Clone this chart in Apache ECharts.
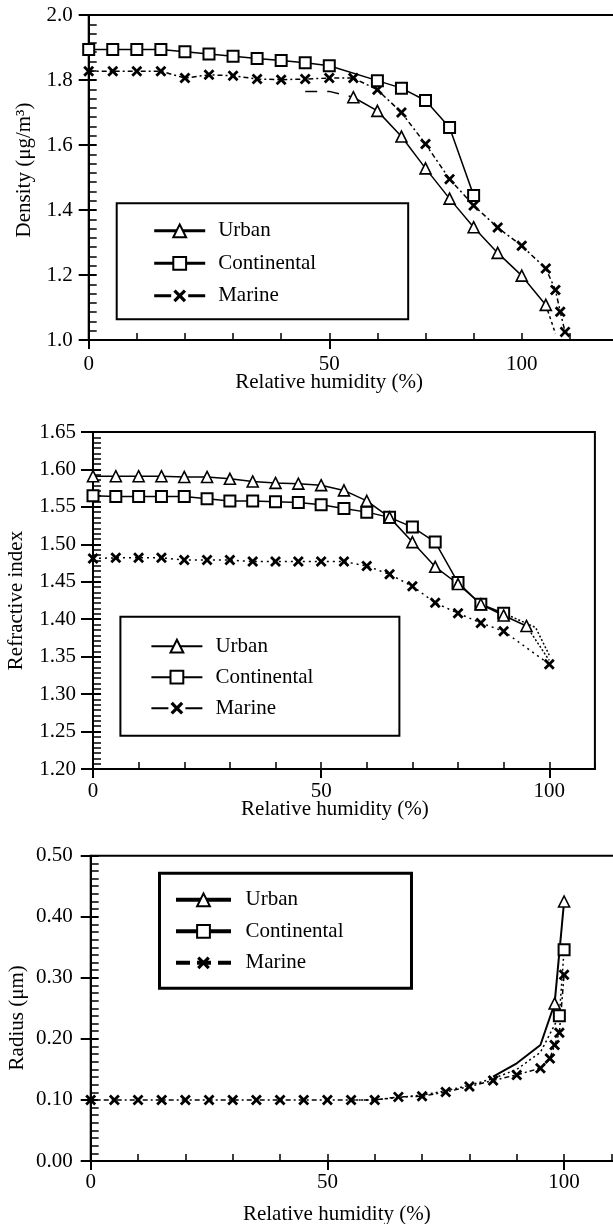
<!DOCTYPE html>
<html>
<head>
<meta charset="utf-8">
<script src="https://cdn.jsdelivr.net/npm/echarts@6/dist/echarts.min.js"></script>
<style>
html,body{margin:0;padding:0;background:#fff;overflow:hidden;}
#c{width:640px;height:1224px;}
</style>
</head>
<body>
<div id="c"></div>
<script>
// ---------- DATA ----------
// Panel 1: Density
const densUrbanLeadX = [45, 50, 55];
const densUrbanLeadY = [1.765, 1.765, 1.747];
const densUrbanX = [55, 60, 65, 70, 75, 80, 85, 90, 95];
const densUrbanY = [1.747, 1.705, 1.626, 1.528, 1.435, 1.347, 1.268, 1.198, 1.108];
const densUrbanTailX = [95, 97];
const densUrbanTailY = [1.108, 1.02];
const densContX = [0, 5, 10, 15, 20, 25, 30, 35, 40, 45, 50, 60, 65, 70, 75, 80];
const densContY = [1.894, 1.894, 1.894, 1.894, 1.887, 1.880, 1.873, 1.866, 1.860, 1.853, 1.844, 1.798, 1.775, 1.737, 1.654, 1.445];
const densMarX = [0, 5, 10, 15, 20, 25, 30, 35, 40, 45, 50, 55, 60, 65, 70, 75, 80, 85, 90, 95, 97, 98, 99];
const densMarY = [1.827, 1.827, 1.827, 1.827, 1.806, 1.816, 1.813, 1.803, 1.801, 1.803, 1.806, 1.806, 1.770, 1.700, 1.603, 1.495, 1.414, 1.346, 1.290, 1.220, 1.154, 1.087, 1.025];
const densXTickValues = [0, 50, 90];
const densXTickLabels = ['0', '50', '100'];

// Panel 2: Refractive index
const refUrbanX = [0, 5, 10, 15, 20, 25, 30, 35, 40, 45, 50, 55, 60, 65, 70, 75, 80, 85, 90, 95];
const refUrbanY = [1.591, 1.591, 1.591, 1.591, 1.590, 1.590, 1.5875, 1.584, 1.582, 1.581, 1.579, 1.572, 1.558, 1.536, 1.503, 1.470, 1.447, 1.420, 1.405, 1.391];
const refUrbanTailX = [95, 100];
const refUrbanTailY = [1.391, 1.345];
const refContX = [0, 5, 10, 15, 20, 25, 30, 35, 40, 45, 50, 55, 60, 65, 70, 75, 80, 85, 90];
const refContY = [1.565, 1.564, 1.564, 1.564, 1.564, 1.561, 1.558, 1.558, 1.557, 1.556, 1.553, 1.548, 1.543, 1.536, 1.523, 1.503, 1.449, 1.420, 1.408];
const refContTailX = [90, 97, 100];
const refContTailY = [1.408, 1.389, 1.352];
const refMarX = [0, 5, 10, 15, 20, 25, 30, 35, 40, 45, 50, 55, 60, 65, 70, 75, 80, 85, 90, 100];
const refMarY = [1.481, 1.482, 1.482, 1.482, 1.479, 1.479, 1.479, 1.477, 1.477, 1.477, 1.477, 1.477, 1.471, 1.460, 1.444, 1.422, 1.408, 1.395, 1.384, 1.340];
const refXTickValues = [0, 50, 100];
const refXTickLabels = ['0', '50', '100'];

// Panel 3: Radius
const radUrbanLeadX = [85, 90, 95, 98];
const radUrbanLeadY = [0.138, 0.160, 0.190, 0.258];
const radUrbanX = [98, 100];
const radUrbanY = [0.258, 0.425];
const radContLeadX = [55, 60, 65, 70, 75, 80, 85, 90, 95, 99];
const radContLeadY = [0.100, 0.100, 0.104, 0.108, 0.115, 0.124, 0.135, 0.150, 0.178, 0.238];
const radContX = [99, 100];
const radContY = [0.238, 0.346];
const radMarX = [0, 5, 10, 15, 20, 25, 30, 35, 40, 45, 50, 55, 60, 65, 70, 75, 80, 85, 90, 95, 97, 98, 99, 100];
const radMarY = [0.100, 0.100, 0.100, 0.100, 0.100, 0.100, 0.100, 0.100, 0.100, 0.100, 0.100, 0.100, 0.100, 0.105, 0.106, 0.113, 0.122, 0.132, 0.141, 0.152, 0.168, 0.190, 0.210, 0.305];
const radXTickValues = [0, 50, 100];
const radXTickLabels = ['0', '50', '100'];

const legendNames = ['Urban', 'Continental', 'Marine'];

// ---------- STYLE / BUILD ----------
const FONT = 'Liberation Serif';
const X_SYMBOL = 'path://M0,1.8L1.8,0L5,3.2L8.2,0L10,1.8L6.8,5L10,8.2L8.2,10L5,6.8L1.8,10L0,8.2L3.2,5Z';

const grids = [], xAxes = [], yAxes = [], legends = [], series = [];

function zip(xs, ys) { return xs.map((x, i) => [x, ys[i]]); }

function addPanel(p) {
  const gi = grids.length;
  grids.push({
    left: p.left, top: p.top, width: p.width, height: p.height,
    show: true, borderColor: '#000', borderWidth: 2, backgroundColor: 'transparent',
    containLabel: false, outerBoundsMode: 'none'
  });
  const xi = xAxes.length, yi = yAxes.length;
  xAxes.push({
    type: 'value', gridIndex: gi, position: 'bottom', min: 0, max: p.xMax, interval: 10,
    axisLine: { show: true, onZero: false, lineStyle: { color: '#000', width: 2 } },
    axisTick: { show: true, inside: true, length: 7, lineStyle: { color: '#000', width: 1.5 } },
    axisLabel: {
      show: true, customValues: p.xTickValues,
      formatter: function (v) {
        const k = p.xTickValues.findIndex(t => Math.abs(t - v) < 1e-6);
        return k >= 0 ? p.xTickLabels[k] : '';
      },
      margin: p.xLabelMargin, color: '#000', fontFamily: FONT, fontSize: 21
    },
    splitLine: { show: false },
    name: 'Relative humidity (%)', nameLocation: 'middle', nameGap: p.xNameGap, nameMoveOverlap: false,
    nameTextStyle: { color: '#000', fontFamily: FONT, fontSize: 21, padding: [0, p.xNameShift * 2, 0, 0] }
  });
  xAxes.push({
    type: 'value', gridIndex: gi, position: 'bottom', min: 0, max: p.xMax, interval: 10,
    axisLine: { show: false, onZero: false }, axisLabel: { show: false }, splitLine: { show: false },
    axisTick: { show: true, inside: false, length: 9, customValues: p.xCrossTicks, lineStyle: { color: '#000', width: 2 } }
  });
  yAxes.push({
    type: 'value', gridIndex: gi, position: 'left', min: p.yMin, max: p.yMax, interval: p.yInterval,
    axisLine: { show: true, onZero: false, lineStyle: { color: '#000', width: 2 } },
    axisTick: { show: true, inside: true, length: 8, lineStyle: { color: '#000', width: 2 } },
    minorTick: { show: true, splitNumber: p.yMinor, length: 8, lineStyle: { color: '#000', width: 1.5 } },
    axisLabel: {
      show: true, margin: p.yLabelMargin, color: '#000', fontFamily: FONT, fontSize: 21,
      formatter: v => v.toFixed(p.yDigits)
    },
    splitLine: { show: false }, minorSplitLine: { show: false },
    name: p.yName, nameLocation: 'middle', nameGap: p.yNameGap, nameMoveOverlap: false,
    nameTextStyle: { color: '#000', fontFamily: FONT, fontSize: 21, padding: p.yNamePad }
  });
  yAxes.push({
    type: 'value', gridIndex: gi, position: 'left', min: p.yMin, max: p.yMax, interval: p.yInterval,
    axisLine: { show: false, onZero: false }, axisLabel: { show: false }, splitLine: { show: false },
    axisTick: { show: true, inside: false, length: p.yOutTick, lineStyle: { color: '#000', width: 2 } }
  });
  legends.push({
    show: true, orient: 'vertical', left: p.lg.left, top: p.lg.top, padding: p.lg.padding,
    itemWidth: p.lg.itemWidth, itemHeight: 16, itemGap: p.lg.itemGap,
    data: [
      { name: legendNames[0] },
      { name: legendNames[1] },
      { name: legendNames[2], lineStyle: { type: p.lg.marDash } }
    ],
    selectedMode: false,
    borderColor: '#000', borderWidth: p.lg.border, backgroundColor: '#fff',
    lineStyle: { width: p.lg.lineWidth },
    textStyle: { color: '#000', fontFamily: FONT, fontSize: 21, padding: [0, 0, 0, p.lg.textPad] }
  });
  return { xi, yi };
}

function addLine(ax, name, xs, ys, opt) {
  series.push({
    type: 'line', name: name, xAxisIndex: ax.xi, yAxisIndex: ax.yi,
    data: zip(xs, ys),
    symbol: opt.symbol || 'none', symbolSize: opt.size || 10,
    showSymbol: !!opt.symbol,
    lineStyle: { color: '#000', width: opt.width || 1.5, type: opt.dash || 'solid' },
    itemStyle: opt.symbol === X_SYMBOL
      ? { color: '#000', borderWidth: 0 }
      : { color: '#fff', borderColor: '#000', borderWidth: opt.bw || 1.5 },
    silent: true, animation: false, emphasis: { disabled: true }, z: opt.z || 2
  });
}

const TRI = { symbol: 'triangle', size: 11, bw: 1.6 };
const SQ = { symbol: 'rect', size: 11, bw: 2 };
const XS = { symbol: X_SYMBOL, size: 11 };
const MAR_DASH = [5, 3, 2, 3];

// Panel 1
const a1 = addPanel({
  left: 88.7, top: 15, width: 538.9, height: 325, xMax: 112,
  xTickValues: densXTickValues, xTickLabels: densXTickLabels, xCrossTicks: [0, 50],
  xLabelMargin: 14, xNameGap: 32, xNameShift: 29,
  yMin: 1.0, yMax: 2.0, yInterval: 0.2, yMinor: 7, yDigits: 1, yLabelMargin: 16, yOutTick: 10,
  yName: 'Density (μg/m³)', yNameGap: 54, yNamePad: [0, 0, 0, 15],
  lg: { left: 116.7, top: 203.3, padding: [17, 92, 13, 36], itemWidth: 51, itemGap: 11.5, border: 2, lineWidth: 3, textPad: 8, marDash: [17, 17] }
});
addLine(a1, 'Marine', densMarX, densMarY, Object.assign({ dash: MAR_DASH }, XS));
addLine(a1, 'urbanLead1', densUrbanLeadX, densUrbanLeadY, { dash: [12, 10] });
addLine(a1, 'urbanTail1', densUrbanTailX, densUrbanTailY, { dash: [3, 3] });
addLine(a1, 'Urban', densUrbanX, densUrbanY, TRI);
addLine(a1, 'Continental', densContX, densContY, SQ);

// Panel 2
const a2 = addPanel({
  left: 93, top: 432, width: 501.9, height: 337, xMax: 110,
  xTickValues: refXTickValues, xTickLabels: refXTickLabels, xCrossTicks: [0, 50, 100],
  xLabelMargin: 12, xNameGap: 30, xNameShift: 9,
  yMin: 1.2, yMax: 1.65, yInterval: 0.05, yMinor: 7, yDigits: 2, yLabelMargin: 17, yOutTick: 12,
  yName: 'Refractive index', yNameGap: 66, yNamePad: [0, 0, 0, 0],
  lg: { left: 120.4, top: 616.7, padding: [19, 86, 17, 30], itemWidth: 51, itemGap: 10, border: 2, lineWidth: 2, textPad: 8, marDash: [17, 17] }
});
addLine(a2, 'Marine', refMarX, refMarY, Object.assign({ dash: [2, 4] }, XS));
addLine(a2, 'urbanTail2', refUrbanTailX, refUrbanTailY, { dash: [2, 2] });
addLine(a2, 'contTail2', refContTailX, refContTailY, { dash: [2, 2] });
addLine(a2, 'Continental', refContX, refContY, SQ);
addLine(a2, 'Urban', refUrbanX, refUrbanY, TRI);

// Panel 3
const a3 = addPanel({
  left: 90.7, top: 855.7, width: 530.2, height: 305.3, xMax: 112,
  xTickValues: radXTickValues, xTickLabels: radXTickLabels, xCrossTicks: [0, 50, 100],
  xLabelMargin: 11, xNameGap: 43, xNameShift: 19,
  yMin: 0, yMax: 0.5, yInterval: 0.1, yMinor: 8, yDigits: 2, yLabelMargin: 18, yOutTick: 10,
  yName: 'Radius (μm)', yNameGap: 63, yNamePad: [0, 19, 0, 0],
  lg: { left: 159.5, top: 873.3, padding: [16, 68, 15, 14.5], itemWidth: 55, itemGap: 10.5, border: 3, lineWidth: 4, textPad: 9.5, marDash: [14, 7] }
});
addLine(a3, 'contLead3', radContLeadX, radContLeadY, { dash: [2, 3] });
addLine(a3, 'urbanLead3', radUrbanLeadX, radUrbanLeadY, { width: 2 });
addLine(a3, 'Marine', radMarX, radMarY, Object.assign({ dash: MAR_DASH }, XS));
addLine(a3, 'Continental', radContX, radContY, Object.assign({ dash: [2, 3] }, SQ));
addLine(a3, 'Urban', radUrbanX, radUrbanY, Object.assign({ width: 2 }, TRI));

const chart = echarts.init(document.getElementById('c'), null, { renderer: 'canvas' });
chart.setOption({
  animation: false,
  backgroundColor: '#fff',
  grid: grids, xAxis: xAxes, yAxis: yAxes, legend: legends, series: series
});
</script>
</body>
</html>
